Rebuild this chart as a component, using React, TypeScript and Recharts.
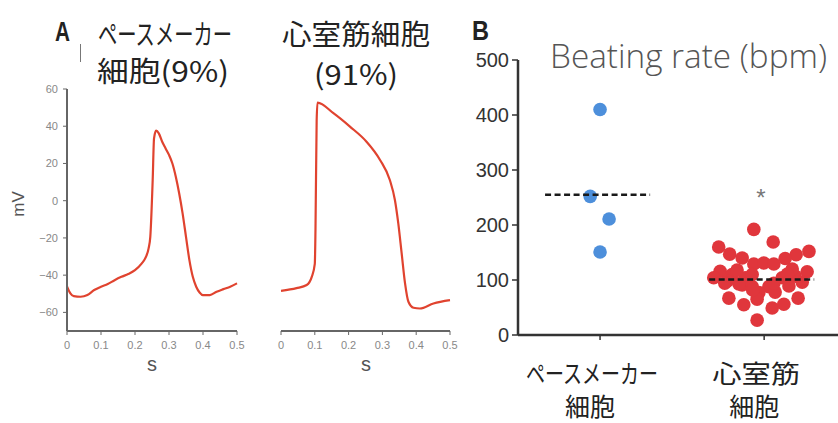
import { LineChart, Line, XAxis, YAxis, ScatterChart, Scatter } from 'recharts';

// ---- Panel A: action potentials (time in s, membrane potential in mV)
const pacemakerTime = [0, 0.01, 0.02, 0.04, 0.06, 0.08, 0.1, 0.12, 0.14, 0.16, 0.18, 0.2, 0.22, 0.23, 0.24, 0.245, 0.252, 0.256, 0.262, 0.27, 0.28, 0.29, 0.3, 0.31, 0.32, 0.33, 0.34, 0.35, 0.36, 0.37, 0.38, 0.39, 0.4, 0.42, 0.44, 0.46, 0.48, 0.5];
const pacemakerMv = [-46, -49.8, -51.3, -51.6, -50.7, -48, -46.2, -44.8, -42.7, -40.9, -39.4, -37.3, -33.7, -31, -25.6, -19.4, 11, 33.5, 37.6, 36.2, 31.7, 28.1, 24.6, 20, 12.9, 3.9, -6.8, -19.4, -31.9, -40.9, -46.2, -49.3, -50.7, -50.7, -48.9, -47.5, -46.2, -44.4];

const ventricularTime = [0, 0.046, 0.076, 0.091, 0.1, 0.102, 0.1055, 0.108, 0.155, 0.204, 0.253, 0.293, 0.322, 0.337, 0.347, 0.357, 0.367, 0.377, 0.392, 0.411, 0.451, 0.5];
const ventricularMv = [-48.4, -47, -45.3, -40.9, -34, -15.8, 43, 52.7, 47, 39.8, 31.7, 21.9, 11.1, 0.4, -12.2, -28.3, -44.4, -54.3, -57.5, -57.9, -55.2, -53.4];

const mvTicks = [-60, -40, -20, 0, 20, 40, 60];
const secTicks = [0, 0.1, 0.2, 0.3, 0.4, 0.5];

// ---- Panel B: beating rate (bpm), x jitter around each group centre
const pacemakerRate = [410, 252, 211, 151];
const pacemakerJitter = [0, -0.06, 0.055, 0];
const ventricularRate = [192, 169, 160, 152, 147, 140, 146, 139, 129, 131, 129, 116, 115, 110, 107, 104, 104, 104, 98, 96, 91, 88, 88, 89, 77, 78, 67, 55, 65, 49, 56, 67, 27, 118, 120, 110, 94, 93, 94, 82, 111];
const ventricularJitter = [-0.063, 0.055, -0.277, 0.273, -0.21, -0.134, 0.195, 0.128, -0.063, -0.002, 0.059, -0.268, 0.262, -0.195, 0.189, -0.116, 0.11, -0.307, -0.226, 0.232, -0.134, -0.073, 0.029, 0.151, -0.032, 0.067, -0.215, -0.124, -0.043, 0.049, 0.12, 0.207, -0.043, -0.165, 0.171, -0.073, -0.24, -0.154, 0.059, -0.07, 0.142];
const groupMeans = [255, 101];
const rateTicks = [0, 100, 200, 300, 400, 500];
const groupCentres = [0.5, 1.5];
const groupLabels = [['ペースメーカー', '細胞'], ['心室筋', '細胞']];

const W = 838;
const H = 423;
const TRACE = '#e0432f';
const CJK = '"Noto Sans CJK JP", sans-serif';
const SANS = '"Liberation Sans", Arial, sans-serif';

const pacemakerData = pacemakerTime.map((t, i) => ({ t, v: pacemakerMv[i] }));
const ventricularData = ventricularTime.map((t, i) => ({ t, v: ventricularMv[i] }));
const pacemakerPts = pacemakerRate.map((y, i) => ({ x: groupCentres[0] + pacemakerJitter[i], y }));
const ventricularPts = ventricularRate.map((y, i) => ({ x: groupCentres[1] + ventricularJitter[i], y }));
// dashed mean bar for each group
const meanBars = groupMeans.map((m, i) => [
  { x: groupCentres[i] - 0.335, y: m },
  { x: groupCentres[i] + 0.305, y: m },
]);

const fmtSec = (v: number) => (v === 0 ? '0' : v.toFixed(1));
const smallTick = { fontSize: 11, fill: '#888', fontFamily: SANS };

const dot = (color: string) => (p: any) => <circle cx={p.cx} cy={p.cy} r={6.8} fill={color} />;
const noDot = () => <g />;

function GroupTick({ x, y, payload }: any) {
  const i = groupCentres.indexOf(payload.value);
  if (i < 0) return null;
  const [l1, l2] = groupLabels[i];
  return (
    <g fontFamily={CJK} fontSize={25} fill="#222">
      <text x={x - 8} y={y + 30} textAnchor="middle" dominantBaseline="central"
        textLength={l1.length > 3 ? 132 : 88} lengthAdjust="spacingAndGlyphs">{l1}</text>
      <text x={x - 10} y={y + 63} textAnchor="middle" dominantBaseline="central">{l2}</text>
    </g>
  );
}

const layer = { position: 'absolute' as const, left: 0, top: 0 };

export default function App() {
  return (
    <div style={{ position: 'absolute', left: 0, top: 0, width: W, height: H, background: '#fff' }}>
      {/* left trace with mV axis */}
      <div style={layer}>
        <LineChart width={W} height={H} data={pacemakerData} margin={{ top: 89, right: 601, bottom: 62, left: 37 }}>
          <XAxis dataKey="t" type="number" domain={[0, 0.5]} ticks={secTicks} tickFormatter={fmtSec}
            height={30} tickSize={4} tickMargin={6} tick={smallTick}
            axisLine={{ stroke: '#666', strokeWidth: 2 }} tickLine={{ stroke: '#666' }} />
          <YAxis type="number" domain={[-70, 60]} ticks={mvTicks} width={30} tickSize={4} tickMargin={5}
            tick={smallTick} tickFormatter={(v: number) => (v < 0 ? '\u2212' + Math.abs(v) : String(v))}
            axisLine={{ stroke: '#666', strokeWidth: 2 }} tickLine={{ stroke: '#666' }} />
          <Line dataKey="v" type="monotone" stroke={TRACE} strokeWidth={2.2} dot={false} isAnimationActive={false} />
        </LineChart>
      </div>

      {/* right trace, same mV scale, axis hidden */}
      <div style={layer}>
        <LineChart width={W} height={H} data={ventricularData} margin={{ top: 89, right: 388, bottom: 62, left: 281 }}>
          <XAxis dataKey="t" type="number" domain={[0, 0.5]} ticks={secTicks} tickFormatter={fmtSec}
            height={30} tickSize={4} tickMargin={6} tick={smallTick}
            axisLine={{ stroke: '#666', strokeWidth: 2 }} tickLine={{ stroke: '#666' }} />
          <YAxis type="number" domain={[-70, 60]} hide />
          <Line dataKey="v" type="monotone" stroke={TRACE} strokeWidth={2.2} dot={false} isAnimationActive={false} />
        </LineChart>
      </div>

      {/* panel B scatter */}
      <div style={layer}>
        <ScatterChart width={W} height={H} margin={{ top: 60, right: 0, bottom: 58, left: 458 }}>
          <XAxis dataKey="x" type="number" domain={[0, 1.95]} ticks={groupCentres} height={30}
            tickSize={5} tickMargin={2} tick={<GroupTick />} interval={0}
            axisLine={{ stroke: '#333', strokeWidth: 2.5 }} tickLine={{ stroke: '#333', strokeWidth: 1.5 }} />
          <YAxis dataKey="y" type="number" domain={[0, 500]} ticks={rateTicks} width={60}
            tickSize={6} tickMargin={3} tick={{ fontSize: 20, fill: '#333', fontFamily: SANS }}
            axisLine={{ stroke: '#333', strokeWidth: 2.5 }} tickLine={{ stroke: '#333', strokeWidth: 1.5 }} />
          <Scatter data={pacemakerPts} shape={dot('#4d8fdb')} isAnimationActive={false} />
          <Scatter data={ventricularPts} shape={dot('#e0363c')} isAnimationActive={false} />
          {meanBars.map((bar, i) => (
            <Scatter key={i} data={bar} shape={noDot} isAnimationActive={false}
              line={{ stroke: '#1a1a1a', strokeWidth: 2.5, strokeDasharray: '6 3.5' }} />
          ))}
        </ScatterChart>
      </div>

      {/* titles and labels */}
      <svg width={W} height={H} style={{ ...layer, pointerEvents: 'none' }}>
        <text x={55} y={41} fontFamily={SANS} fontWeight="bold" fontSize={28} fill="#222"
          textLength={15} lengthAdjust="spacingAndGlyphs">A</text>
        <line x1={80.5} y1={44} x2={80.5} y2={62} stroke="#777" strokeWidth={1} />
        <g fontFamily={CJK} fontSize={28} fill="#222" dominantBaseline="central">
          <text x={98} y={33} textLength={134} lengthAdjust="spacingAndGlyphs">ペースメーカー</text>
          <text x={97} y={70} textLength={132} lengthAdjust="spacingAndGlyphs">細胞(9%)</text>
          <text x={282} y={33} textLength={148} lengthAdjust="spacingAndGlyphs">心室筋細胞</text>
          <text x={314} y={73} textLength={84} lengthAdjust="spacingAndGlyphs">(91%)</text>
        </g>
        <text transform="translate(24,204) rotate(-90)" textAnchor="middle" fontFamily={SANS} fontSize={17} fill="#555">mV</text>
        <text x={152} y={371} textAnchor="middle" fontFamily={SANS} fontSize={20} fill="#555">s</text>
        <text x={366} y={371} textAnchor="middle" fontFamily={SANS} fontSize={20} fill="#555">s</text>

        <text x={472} y={40} fontFamily={SANS} fontWeight="bold" fontSize={28} fill="#222"
          textLength={17} lengthAdjust="spacingAndGlyphs">B</text>
        <text x={550} y={68} fontFamily='"Open Sans", sans-serif' fontWeight={300} fontSize={33} fill="#555"
          textLength={277} lengthAdjust="spacingAndGlyphs">Beating rate (bpm)</text>
        <text x={761} y={206} textAnchor="middle" fontFamily={SANS} fontSize={24} fill="#777">*</text>
      </svg>
    </div>
  );
}
